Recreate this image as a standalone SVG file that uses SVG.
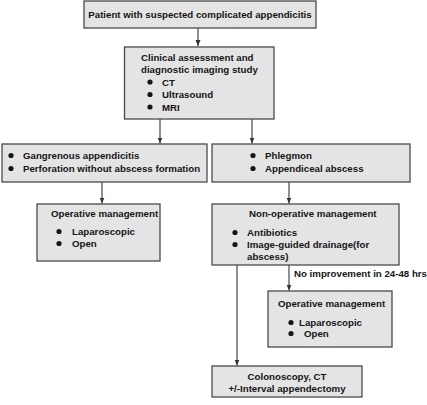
<svg xmlns="http://www.w3.org/2000/svg" width="427" height="405" viewBox="0 0 427 405">
<defs>
<marker id="ah" viewBox="0 0 6 6" refX="6" refY="3" markerWidth="6" markerHeight="6" markerUnits="userSpaceOnUse" orient="auto">
<path d="M0,0.5 L6,3 L0,5.5 Z" fill="#333"/>
</marker>
<style>
.box{fill:#e4e4e4;stroke:#4a4a4a;stroke-width:1.3}
text{font-family:"Liberation Sans",Arial,Helvetica,sans-serif;font-weight:bold;font-size:9.7px;fill:#151515}
.c{text-anchor:middle}
.b{fill:#151515}
.ln{fill:none;stroke:#555;stroke-width:1.3;marker-end:url(#ah)}
</style>
</defs>
<rect width="427" height="405" fill="#fff"/>
<g id="connectors">
<line class="ln" x1="198" y1="28" x2="198" y2="46"/>
<line class="ln" x1="160" y1="119" x2="160" y2="143.5"/>
<line class="ln" x1="252" y1="119" x2="252" y2="143.5"/>
<line class="ln" x1="102" y1="182" x2="102" y2="203.5"/>
<line class="ln" x1="289" y1="182" x2="289" y2="203.5"/>
<line class="ln" x1="289" y1="265" x2="289" y2="290.5"/>
<line class="ln" x1="237" y1="265" x2="237" y2="365.5"/>
<text x="294" y="277">No improvement in 24-48 hrs</text>
</g>
<g id="n1">
<rect class="box" x="84" y="1" width="232" height="27"/>
<text class="c" x="200" y="18">Patient with suspected complicated appendicitis</text>
</g>
<g id="n2">
<rect class="box" x="124.5" y="47" width="149.5" height="72"/>
<text x="141" y="60.5">Clinical assessment and</text>
<text x="141" y="73">diagnostic imaging study</text>
<circle class="b" cx="150" cy="82" r="2.6"/><text x="162" y="85.5">CT</text>
<circle class="b" cx="150" cy="94.5" r="2.6"/><text x="162" y="98">Ultrasound</text>
<circle class="b" cx="150" cy="107" r="2.6"/><text x="162" y="110.5">MRI</text>
</g>
<g id="n3">
<rect class="box" x="2" y="144" width="205" height="38"/>
<circle class="b" cx="11" cy="155.5" r="2.6"/><text x="23" y="159">Gangrenous appendicitis</text>
<circle class="b" cx="11" cy="168.5" r="2.6"/><text x="23" y="172">Perforation without abscess formation</text>
</g>
<g id="n4">
<rect class="box" x="212" y="144" width="198" height="38"/>
<circle class="b" cx="253" cy="155.5" r="2.6"/><text x="265" y="159">Phlegmon</text>
<circle class="b" cx="253" cy="168.5" r="2.6"/><text x="265" y="172">Appendiceal abscess</text>
</g>
<g id="n5">
<rect class="box" x="37" y="204" width="123" height="57"/>
<text x="51" y="216.5">Operative management</text>
<circle class="b" cx="59" cy="231.5" r="2.6"/><text x="72" y="235">Laparoscopic</text>
<circle class="b" cx="59" cy="243.5" r="2.6"/><text x="72" y="247">Open</text>
</g>
<g id="n6">
<rect class="box" x="212" y="204" width="187" height="61"/>
<text x="249" y="217">Non-operative management</text>
<circle class="b" cx="235" cy="232.5" r="2.6"/><text x="247" y="236">Antibiotics</text>
<circle class="b" cx="235" cy="244.5" r="2.6"/><text x="247" y="248">Image-guided drainage(for</text>
<text x="247" y="260">abscess)</text>
</g>
<g id="n7">
<rect class="box" x="268" y="291" width="124" height="56"/>
<text x="278" y="307">Operative management</text>
<circle class="b" cx="291" cy="322.5" r="2.6"/><text x="299" y="326">Laparoscopic</text>
<circle class="b" cx="291" cy="333.5" r="2.6"/><text x="304" y="337">Open</text>
</g>
<g id="n8">
<rect class="box" x="212" y="366" width="150" height="31"/>
<text class="c" x="287" y="380">Colonoscopy, CT</text>
<text class="c" x="287" y="391.5">+/-Interval appendectomy</text>
</g>
</svg>
